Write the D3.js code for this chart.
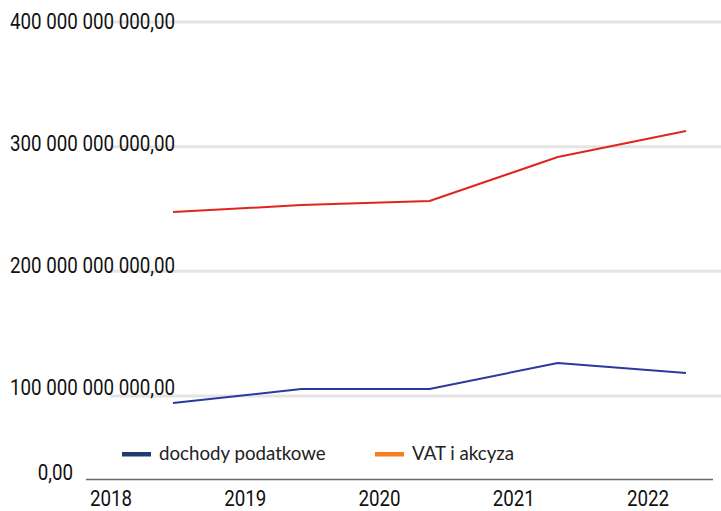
<!DOCTYPE html>
<html><head><meta charset="utf-8">
<script src="https://cdn.jsdelivr.net/npm/d3@7"></script>
<style>html,body{margin:0;padding:0;background:#fff;}</style>
</head><body>
<svg id="c" width="721" height="511"></svg>
<script>
const years = ["2018","2019","2020","2021","2022"];
const dochodyPodatkowe = [94.4e9, 105.6e9, 105.6e9, 126.5e9, 118.5e9];
const vatIAkcyza = [247.5e9, 253.2e9, 256.4e9, 291.7e9, 312.6e9];
const yTicks = [100e9, 200e9, 300e9, 400e9];
const seriesNames = ["dochody podatkowe", "VAT i akcyza"];
const seriesColors = ["#1f3d6c", "#f58024"];
const lineColors = ["#2a3a9c", "#e0261c"];

const svg = d3.select("#c");
const numFont = "Roboto, 'Liberation Sans', sans-serif";
const fmt = v => d3.format(",.2f")(v).replace(/,/g," ").replace(/\.(\d+)$/, ",$1");

const y = d3.scaleLinear().domain([0, 400e9]).range([520.67, 22]);
const yLab = d3.scaleLinear().domain([100e9, 400e9]).range([395, 29]);
const xLine = d3.scalePoint().domain(years).range([173, 686]);
const xLab = d3.scalePoint().domain(years).range([111, 648]);

// measure compression for condensed look
const probe = svg.append("text").attr("font-family", numFont).attr("font-size", 22).text(fmt(400e9));
const squeeze = 165 / probe.node().getComputedTextLength();
probe.remove();

function numText(g, x, yy, anchor, txt) {
  g.append("g").attr("transform", `translate(${x},${yy}) scale(${squeeze},1)`)
    .append("text").attr("text-anchor", anchor)
    .attr("font-family", numFont).attr("font-size", 22).attr("fill", "#111")
    .text(txt);
}

// gridlines
svg.append("g").selectAll("line").data(yTicks).join("line")
  .attr("x1", 110).attr("x2", 721)
  .attr("y1", d => y(d)).attr("y2", d => y(d))
  .attr("stroke", "#e4e4e4").attr("stroke-width", 3);

// y labels
const yl = svg.append("g");
yTicks.forEach(d => numText(yl, 10, yLab(d), "start", fmt(d)));

// zero axis (drawn separately as in the reference)
svg.append("line").attr("x1", 86).attr("x2", 713).attr("y1", 479.5).attr("y2", 479.5)
  .attr("stroke", "#6a6a6a").attr("stroke-width", 1.5);
numText(svg, 73, 480, "end", fmt(0));

// x labels
const xl = svg.append("g");
years.forEach(d => numText(xl, xLab(d), 506, "middle", d));

// lines
const line = d3.line().x((d, i) => xLine(years[i])).y(d => y(d));
[dochodyPodatkowe, vatIAkcyza].forEach((s, k) => {
  svg.append("path").datum(s).attr("d", line)
    .attr("fill", "none").attr("stroke", lineColors[k]).attr("stroke-width", 2)
    .attr("stroke-linejoin", "round");
});

// legend
const legX = [122, 375];
const leg = svg.append("g").selectAll("g").data(seriesNames).join("g")
  .attr("transform", (d, i) => `translate(${legX[i]},454)`);
leg.append("rect").attr("x", 0).attr("y", -2).attr("width", 29).attr("height", 4.5)
  .attr("fill", (d, i) => seriesColors[i]);
leg.append("text").attr("x", 37).attr("y", 6)
  .attr("font-family", "Lato, sans-serif").attr("font-size", 18.7).attr("fill", "#222")
  .text(d => d);
</script>
</body></html>
